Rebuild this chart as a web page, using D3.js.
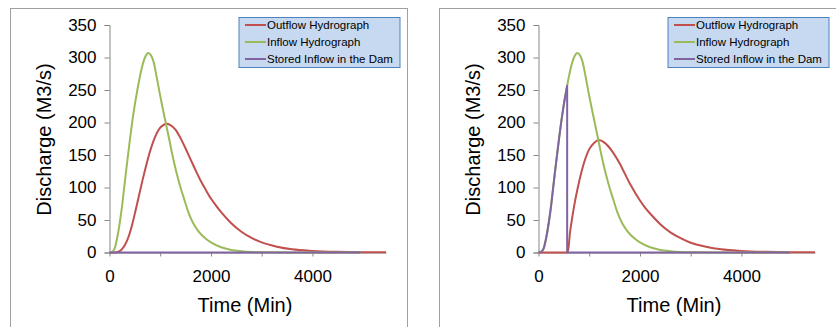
<!DOCTYPE html>
<html>
<head>
<meta charset="utf-8">
<script src="https://cdn.jsdelivr.net/npm/d3@7"></script>
<style>
  body { margin: 0; background: #fff; }
  svg { display: block; font-family: "Liberation Sans", Arial, sans-serif; }
</style>
</head>
<body>
<div id="chart"></div>
<script>
// two hydrograph panels: without dam (left) and with stored inflow (right)

const seriesNames = ["Outflow Hydrograph", "Inflow Hydrograph", "Stored Inflow in the Dam"];
const seriesColors = ["#c0504d", "#9bbb59", "#8064a2"];

const yTicks = [0, 50, 100, 150, 200, 250, 300, 350];
const xTicks = [0, 1000, 2000, 3000, 4000];
const xLabels = [0, 2000, 4000];

// inflow hydrograph (same in both panels)
const inflowTime = [0, 50, 100, 150, 210, 250, 285, 325, 362, 400, 443, 490, 540, 565, 600, 660, 710, 765,
  820, 870, 920, 975, 1040, 1110, 1175, 1240, 1320, 1400, 1480, 1550, 1650, 1750, 1900, 2000, 2200,
  2400, 2600, 2800, 3000, 3500, 4950];
const inflowQ = [0, 1, 6, 22, 50, 73, 97, 124, 148, 172, 198, 223, 246, 257, 271, 291, 302, 307,
  303, 293, 274, 251, 225, 199, 175, 150, 123, 100, 80, 63, 45, 33, 21, 15.5, 8,
  4, 2, 0.8, 0.3, 0, 0];

// left panel
const outflowTimeA = [0, 150, 200, 250, 300, 350, 400, 450, 500, 550, 600, 650, 700, 750, 800, 850, 900,
  950, 1000, 1060, 1120, 1200, 1300, 1400, 1500, 1600, 1700, 1800, 1900, 2000, 2100, 2200, 2400, 2600,
  2800, 3000, 3300, 3600, 4000, 4500, 5000, 5450];
const outflowQA = [0, 0.5, 2, 5.5, 11, 19, 30, 44, 60, 77, 94, 111, 127, 142, 156, 168, 178,
  186, 192, 196, 198, 196, 189, 176, 160, 143, 126, 110, 96, 83, 72, 62, 45, 32,
  22.5, 15.5, 9, 5, 2.5, 1, 0.4, 0.2];
const storedTimeA = [0, 4950];
const storedQA = [0, 0];

// right panel
const outflowTimeB = [0, 578, 620, 663, 720, 775, 850, 926, 1000, 1100, 1190, 1300, 1450, 1600, 1800,
  2000, 2100, 2200, 2400, 2600, 2800, 3000, 3300, 3600, 4000, 4500, 5000, 5450];
const outflowQB = [0, 0, 30, 53, 79, 100, 125, 145, 159, 169, 173, 169, 156, 137, 106,
  80, 69, 60, 43.5, 31, 22, 15, 9, 5, 2.5, 1, 0.4, 0.2];
const storedTimeB = [0, 50, 100, 150, 210, 250, 285, 325, 362, 400, 443, 490, 540, 565, 565, 4950];
const storedQB = [0, 1, 6, 22, 50, 73, 97, 124, 148, 172, 198, 223, 246, 257, 0, 0];

const width = 836;
const height = 327;

const svg = d3.select("#chart")
  .append("svg")
  .attr("width", width)
  .attr("height", height);

function toPoints(ts, qs) {
  return ts.map(function(t, i) { return [t, qs[i]]; });
}

// split a point list where two consecutive points share a time (vertical drop)
function splitPieces(points) {
  const pieces = [[points[0]]];
  for (let i = 1; i < points.length; i++) {
    if (points[i][0] === points[i - 1][0]) {
      pieces.push([points[i]]);
    } else {
      pieces[pieces.length - 1].push(points[i]);
    }
  }
  return pieces;
}

function drawPanel(left, series) {
  const g = svg.append("g").attr("transform", "translate(" + left + ",0)");

  g.append("rect")
    .attr("x", 10.5)
    .attr("y", 8.5)
    .attr("width", 397)
    .attr("height", 340)
    .attr("fill", "#fff")
    .attr("stroke", "#a0a0a0");

  const x = d3.scaleLinear().domain([0, 5450]).range([109.5, 386]);
  const y = d3.scaleLinear().domain([0, 350]).range([252.5, 25]);

  const yAxis = g.append("g")
    .attr("transform", "translate(109.5,0)")
    .call(d3.axisLeft(y).tickValues(yTicks).tickSize(5).tickPadding(8));
  yAxis.select(".domain").attr("stroke", "#868686");
  yAxis.selectAll(".tick line").attr("stroke", "#868686");
  yAxis.selectAll(".tick text")
    .attr("font-size", 17)
    .attr("font-family", "Liberation Sans, Arial, sans-serif")
    .attr("fill", "#000");

  const xAxis = g.append("g")
    .attr("transform", "translate(0,252.5)")
    .call(d3.axisBottom(x).tickValues(xTicks).tickSize(4).tickSizeOuter(0)
      .tickFormat(function(d) { return xLabels.indexOf(d) >= 0 ? d : ""; }));
  xAxis.select(".domain").attr("stroke", "#868686");
  xAxis.selectAll(".tick line").attr("stroke", "#868686");
  xAxis.selectAll(".tick text")
    .attr("font-size", 17)
    .attr("font-family", "Liberation Sans, Arial, sans-serif")
    .attr("fill", "#000")
    .attr("y", 0)
    .attr("dy", 0)
    .attr("transform", "translate(0,29.5)");

  g.append("text")
    .attr("x", 245)
    .attr("y", 311.5)
    .attr("text-anchor", "middle")
    .attr("font-size", 20)
    .text("Time (Min)");

  g.append("text")
    .attr("transform", "translate(50.5,139.5) rotate(-90)")
    .attr("text-anchor", "middle")
    .attr("font-size", 20)
    .text("Discharge (M3/s)");

  const line = d3.line()
    .x(function(d) { return x(d[0]); })
    .y(function(d) { return y(d[1]); })
    .curve(d3.curveMonotoneX);

  series.forEach(function(s, i) {
    const pieces = splitPieces(s);
    pieces.forEach(function(piece, k) {
      g.append("path")
        .attr("d", line(piece))
        .attr("fill", "none")
        .attr("stroke", seriesColors[i])
        .attr("stroke-width", 2);
      if (k > 0) {
        const prev = pieces[k - 1][pieces[k - 1].length - 1];
        g.append("line")
          .attr("x1", x(prev[0])).attr("y1", y(prev[1]))
          .attr("x2", x(piece[0][0])).attr("y2", y(piece[0][1]))
          .attr("stroke", seriesColors[i])
          .attr("stroke-width", 2);
      }
    });
  });

  // legend
  const legend = g.append("g");
  legend.append("rect")
    .attr("x", 239)
    .attr("y", 17.5)
    .attr("width", 161)
    .attr("height", 50)
    .attr("fill", "#c6d9f1")
    .attr("stroke", "#4f81bd");

  seriesNames.forEach(function(name, i) {
    const ly = 25 + i * 17;
    legend.append("line")
      .attr("x1", 245).attr("x2", 266)
      .attr("y1", ly).attr("y2", ly)
      .attr("stroke", seriesColors[i])
      .attr("stroke-width", 2);
    legend.append("text")
      .attr("x", 267)
      .attr("y", ly)
      .attr("dy", "0.35em")
      .attr("font-size", 11.5)
      .attr("fill", "#000")
      .text(name);
  });
}

drawPanel(0, [toPoints(outflowTimeA, outflowQA), toPoints(inflowTime, inflowQ), toPoints(storedTimeA, storedQA)]);
drawPanel(429, [toPoints(outflowTimeB, outflowQB), toPoints(inflowTime, inflowQ), toPoints(storedTimeB, storedQB)]);
</script>
</body>
</html>
